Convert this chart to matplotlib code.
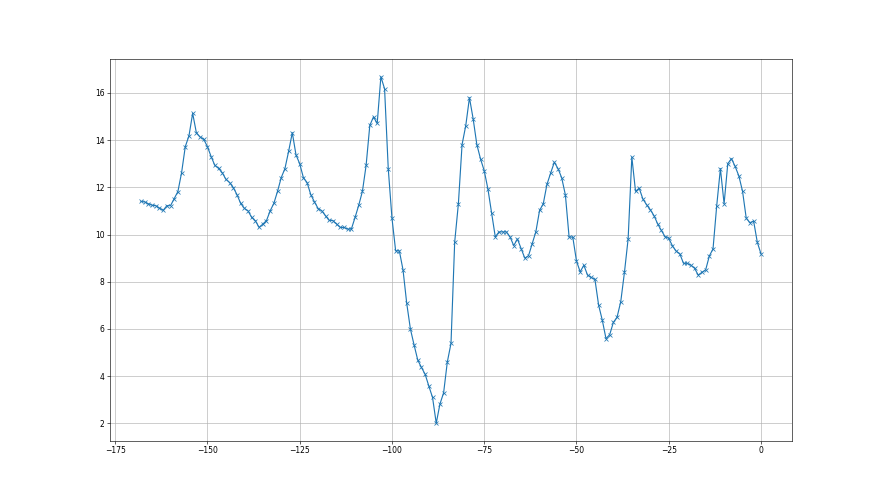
import matplotlib
matplotlib.use("Agg")
import matplotlib.pyplot as plt
import numpy as np

# one reading per step, from step -168 up to step 0
values = [
    11.4, 11.38, 11.3, 11.24, 11.22, 11.12, 11.02, 11.22, 11.22, 11.52,
    11.82, 12.62, 13.72, 14.18, 15.13, 14.31, 14.13, 14.03, 13.72, 13.3,
    12.93, 12.8, 12.62, 12.34, 12.2, 11.99, 11.69, 11.32, 11.11, 11.0,
    10.72, 10.58, 10.3, 10.44, 10.59, 11.0, 11.32, 11.83, 12.41, 12.79,
    13.52, 14.31, 13.37, 13.0, 12.41, 12.2, 11.69, 11.38, 11.1, 11.0,
    10.79, 10.6, 10.59, 10.44, 10.3, 10.3, 10.23, 10.23, 10.72, 11.24,
    11.83, 12.93, 14.62, 14.98, 14.7, 16.68, 16.17, 12.78, 10.7, 9.31,
    9.31, 8.5, 7.09, 6.0, 5.32, 4.68, 4.37, 4.08, 3.58, 3.1,
    2.01, 2.82, 3.3, 4.6, 5.39, 9.68, 11.3, 13.81, 14.61, 15.79,
    14.9, 13.81, 13.2, 12.7, 11.93, 10.93, 9.9, 10.11, 10.11, 10.11,
    9.9, 9.53, 9.81, 9.4, 9.0, 9.1, 9.61, 10.12, 11.02, 11.3,
    12.12, 12.6, 13.06, 12.79, 12.4, 11.67, 9.89, 9.89, 8.88, 8.42,
    8.7, 8.28, 8.18, 8.1, 7.01, 6.37, 5.59, 5.76, 6.28, 6.5,
    7.16, 8.4, 9.82, 13.28, 11.83, 11.96, 11.5, 11.26, 11.05, 10.8,
    10.45, 10.17, 9.91, 9.84, 9.52, 9.3, 9.18, 8.78, 8.78, 8.7,
    8.57, 8.28, 8.4, 8.5, 9.09, 9.39, 11.22, 12.79, 11.3, 13.0,
    13.21, 12.88, 12.48, 11.83, 10.69, 10.5, 10.57, 9.67, 9.18,
]
steps = np.arange(-(len(values) - 1), 1)

fig = plt.figure(figsize=(16, 9), dpi=55)
ax = fig.add_subplot(1, 1, 1)
ax.plot(steps, values, marker="x", color="#1f77b4")
ax.grid(True)

fig.savefig("out.png", dpi=55)
